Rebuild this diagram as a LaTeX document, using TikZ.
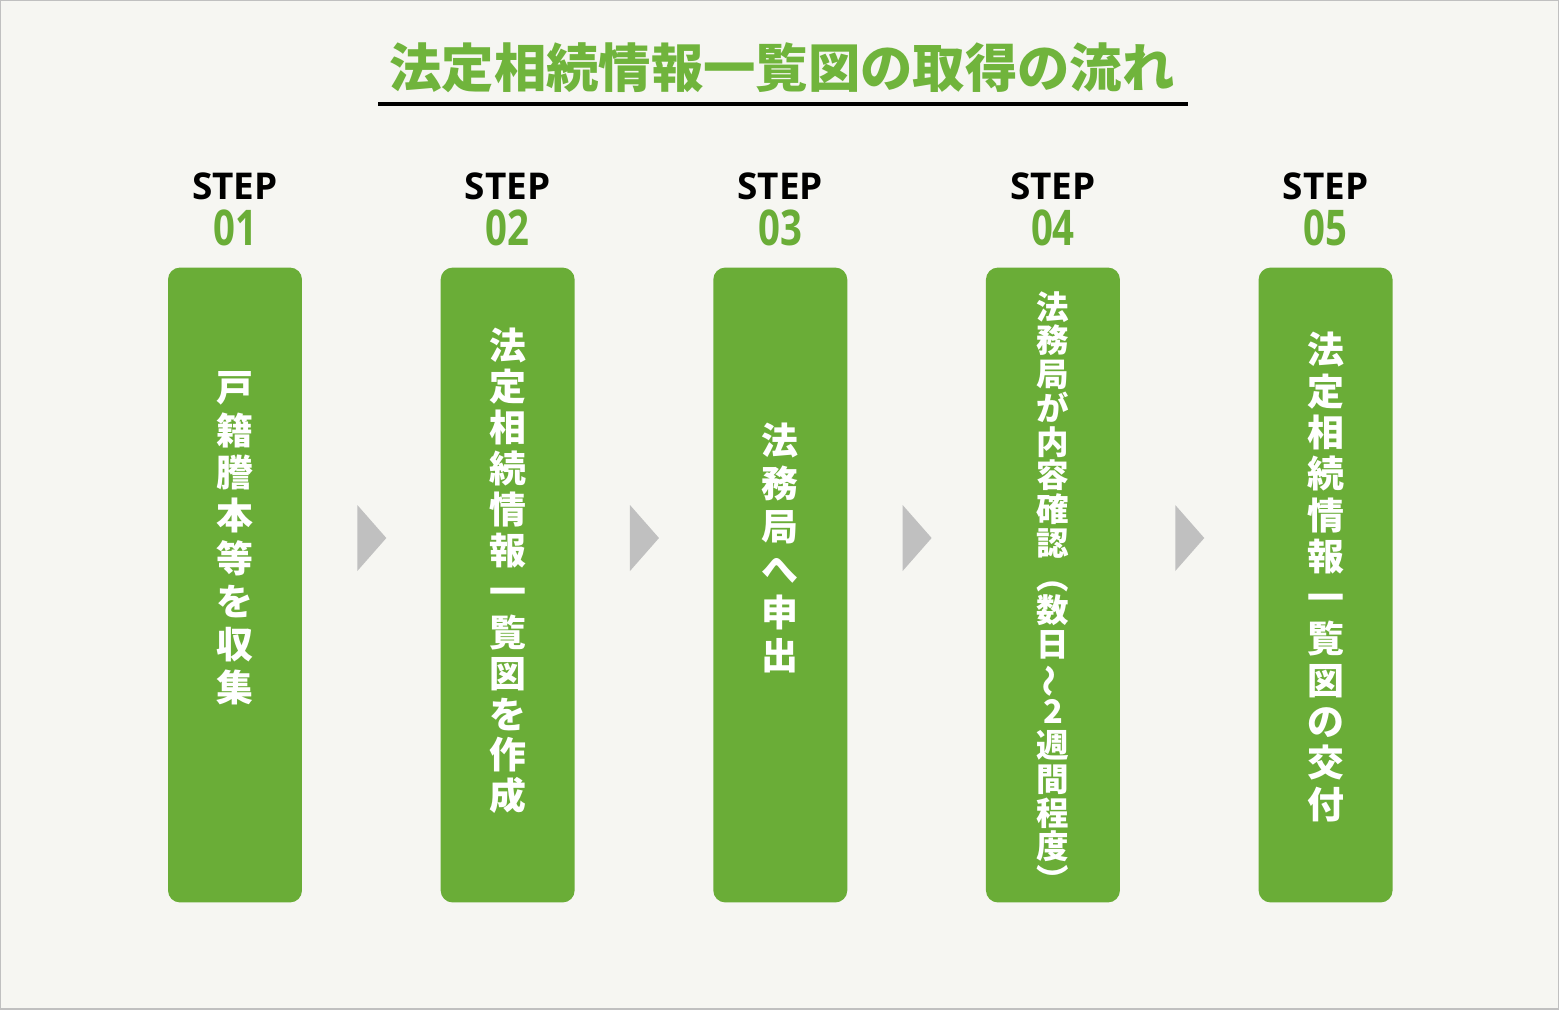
\documentclass[tikz,border=0pt]{standalone}
\usepackage{fontspec}
\setmainfont{Open Sans}
\newfontfamily\jpfont{Noto Sans CJK JP}
\usetikzlibrary{positioning,calc}
\definecolor{stepgreen}{RGB}{106,173,55}
\definecolor{titlegreen}{RGB}{112,180,60}
\definecolor{pagebg}{RGB}{246,246,242}
\definecolor{framegray}{RGB}{192,192,192}
\definecolor{arrowgray}{RGB}{192,192,192}
\newcommand{\vtate}[2]{\jpfont\bfseries\fontsize{#1}{#2}\selectfont\lineskiplimit=-\maxdimen}
\newcommand{\vkara}{\rotatebox[origin=c]{90}{～}}

\begin{document}
\begin{tikzpicture}[x=0.02cm,y=-0.02cm,node distance=2.76cm]
\tikzstyle{stepbox}=[rectangle,fill=stepgreen,rounded corners=0.24cm,minimum width=2.68cm,minimum height=12.7cm,inner sep=0]
\tikzstyle{stephead}=[inner sep=0,font=\bfseries\fontsize{21}{21}\selectfont]
\tikzstyle{stepnum}=[inner sep=0,text=stepgreen,font=\bfseries\fontsize{28}{28}\selectfont]
\tikzstyle{steptext}=[inner sep=0,text=white,align=center]
\useasboundingbox (0,0) rectangle (1559,1009);
\draw[fill=pagebg,draw=framegray,line width=0.05cm] (0,0) rectangle (1559,1009);
\node (title) at (782,68) [text=titlegreen,font=\jpfont\bfseries\fontsize{29.8}{30}\selectfont] {法定相続情報一覧図の取得の流れ};
\coordinate (ul-l) at (378,104);
\coordinate (ul-r) at (1188,104);
\draw[line width=0.08cm] (ul-l) -- (ul-r);
\node (s1) [stepbox] at (235,585) {};
\node (s2) [stepbox, right=of s1] {};
\node (s3) [stepbox, right=of s2] {};
\node (s4) [stepbox, right=of s3] {};
\node (s5) [stepbox, right=of s4] {};
\foreach \i in {1,...,5}{
  \node (n\i) [stepnum, above=0.42cm of s\i] {\scalebox{0.78}[1]{0\i}};
  \node (h\i) [stephead, above=0.18cm of n\i] {STEP};
}
\foreach \i/\j in {1/2,2/3,3/4,4/5}{
  \path (s\i.east) -- (s\j.west) coordinate[midway,yshift=0.94cm] (a\i);
  \fill[arrowgray] ($(a\i)+(-14,-33)$) -- ($(a\i)+(15,0)$) -- ($(a\i)+(-14,33)$) -- cycle;
}
\node (t1) [steptext, font=\vtate{21}{24.4}, yshift=0.94cm] at (s1.center) {戸\\籍\\謄\\本\\等\\を\\収\\集};
\node (t2) [steptext, font=\vtate{21}{23.3}, yshift=0.28cm] at (s2.center) {法\\定\\相\\続\\情\\報\\一\\覧\\図\\を\\作\\成};
\node (t3) [steptext, font=\vtate{21}{24.4}, yshift=0.74cm] at (s3.center) {法\\務\\局\\へ\\申\\出};
\node (t4) [steptext, font=\vtate{18.5}{19.2}, yshift=-0.14cm] at (s4.center) {法\\務\\局\\が\\内\\容\\確\\認\\︵\\数\\日\\\vkara\\2\\週\\間\\程\\度\\︶};
\node (t5) [steptext, font=\vtate{21}{23.5}, yshift=0.16cm] at (s5.center) {法\\定\\相\\続\\情\\報\\一\\覧\\図\\の\\交\\付};
\end{tikzpicture}
\end{document}
